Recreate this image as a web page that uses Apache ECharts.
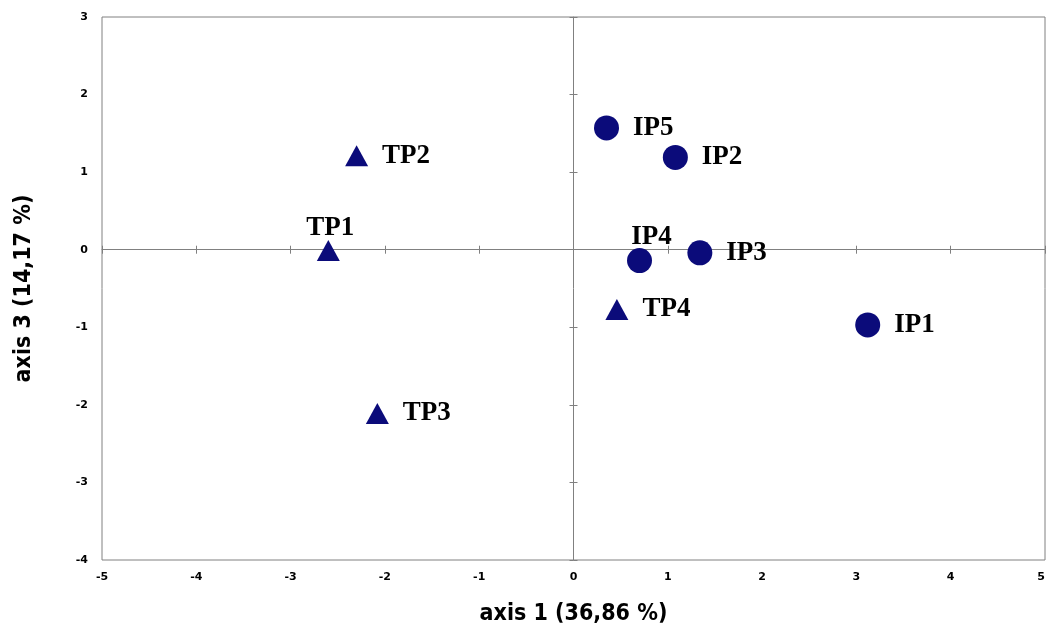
<!DOCTYPE html>
<html><head><meta charset="utf-8">
<script src="https://cdn.jsdelivr.net/npm/echarts@6/dist/echarts.min.js"></script>
<style>html,body{margin:0;padding:0;background:#fff}#c{width:1047px;height:631px}</style>
</head><body><div id="c"></div>
<script>
const triNames = ['TP1','TP2','TP3','TP4'];
const triX = [-2.60, -2.30, -2.08, 0.46];
const triY = [-0.01, 1.21, -2.11, -0.77];
const cirNames = ['IP1','IP2','IP3','IP4','IP5'];
const cirX = [3.12, 1.08, 1.34, 0.70, 0.35];
const cirY = [-0.97, 1.19, -0.04, -0.14, 1.57];
const labelTop = ['TP1','IP4'];
const xTitle = 'axis 1 (36,86 %)';
const yTitle = 'axis 3 (14,17 %)';

const color = '#0b0b7a';
const labFont = {fontFamily:'Liberation Serif', fontWeight:'bold', fontSize:27, color:'#000'};
function mk(names, xs, ys){
  return names.map((n,i)=>{
    const top = labelTop.includes(n);
    return {name:n, value:[xs[i], ys[i]],
      label: top ? {position:'top', distance:-2, offset:[n==='IP4'?12:2,0]} : {position:'right', distance:14}};
  });
}
const tickCommon = {show:true, lineStyle:{color:'#808080'}, length:4};
const titleFont = {fontFamily:'DejaVu Sans Condensed', fontWeight:'bold', fontSize:23, color:'#000'};
const chart = echarts.init(document.getElementById('c'));
chart.setOption({
  animation:false,
  grid:{left:102, right:2, top:17, bottom:71, show:true, borderColor:'#808080', borderWidth:1, outerBoundsMode:'none', containLabel:false},
  xAxis:[
    {type:'value', min:-5, max:5, interval:1, position:'bottom',
     axisLine:{show:false, onZero:false}, axisTick:{show:false}, splitLine:{show:false},
     axisLabel:{margin:12, fontFamily:'DejaVu Sans', fontWeight:'bold', fontSize:11, color:'#000', alignMaxLabel:'right'},
     name:xTitle, nameLocation:'middle', nameGap:43, nameTextStyle:titleFont},
    {type:'value', min:-5, max:5, interval:1, position:'bottom',
     axisLine:{show:true, onZero:true, lineStyle:{color:'#808080'}}, axisTick:Object.assign({inside:false},tickCommon),
     axisLabel:{show:false}, splitLine:{show:false}},
    {type:'value', min:-5, max:5, interval:1, position:'bottom',
     axisLine:{show:false, onZero:true}, axisTick:Object.assign({inside:true},tickCommon),
     axisLabel:{show:false}, splitLine:{show:false}}
  ],
  yAxis:[
    {type:'value', min:-4, max:3, interval:1, position:'left',
     axisLine:{show:false, onZero:false}, axisTick:{show:false}, splitLine:{show:false},
     axisLabel:{margin:14, fontFamily:'DejaVu Sans', fontWeight:'bold', fontSize:11, color:'#000'},
     name:yTitle, nameLocation:'middle', nameGap:66, nameRotate:90, nameTextStyle:titleFont},
    {type:'value', min:-4, max:3, interval:1, position:'left',
     axisLine:{show:true, onZero:true, lineStyle:{color:'#808080'}}, axisTick:Object.assign({inside:false},tickCommon),
     axisLabel:{show:false}, splitLine:{show:false}},
    {type:'value', min:-4, max:3, interval:1, position:'left',
     axisLine:{show:false, onZero:true}, axisTick:Object.assign({inside:true},tickCommon),
     axisLabel:{show:false}, splitLine:{show:false}}
  ],
  series:[
    {type:'scatter', symbol:'triangle', symbolSize:[23,21], itemStyle:{color:color, opacity:1},
     label:Object.assign({show:true, formatter:'{b}'}, labFont), data:mk(triNames, triX, triY)},
    {type:'scatter', symbol:'circle', symbolSize:25, itemStyle:{color:color, opacity:1},
     label:Object.assign({show:true, formatter:'{b}'}, labFont), data:mk(cirNames, cirX, cirY)}
  ]
});
</script></body></html>
